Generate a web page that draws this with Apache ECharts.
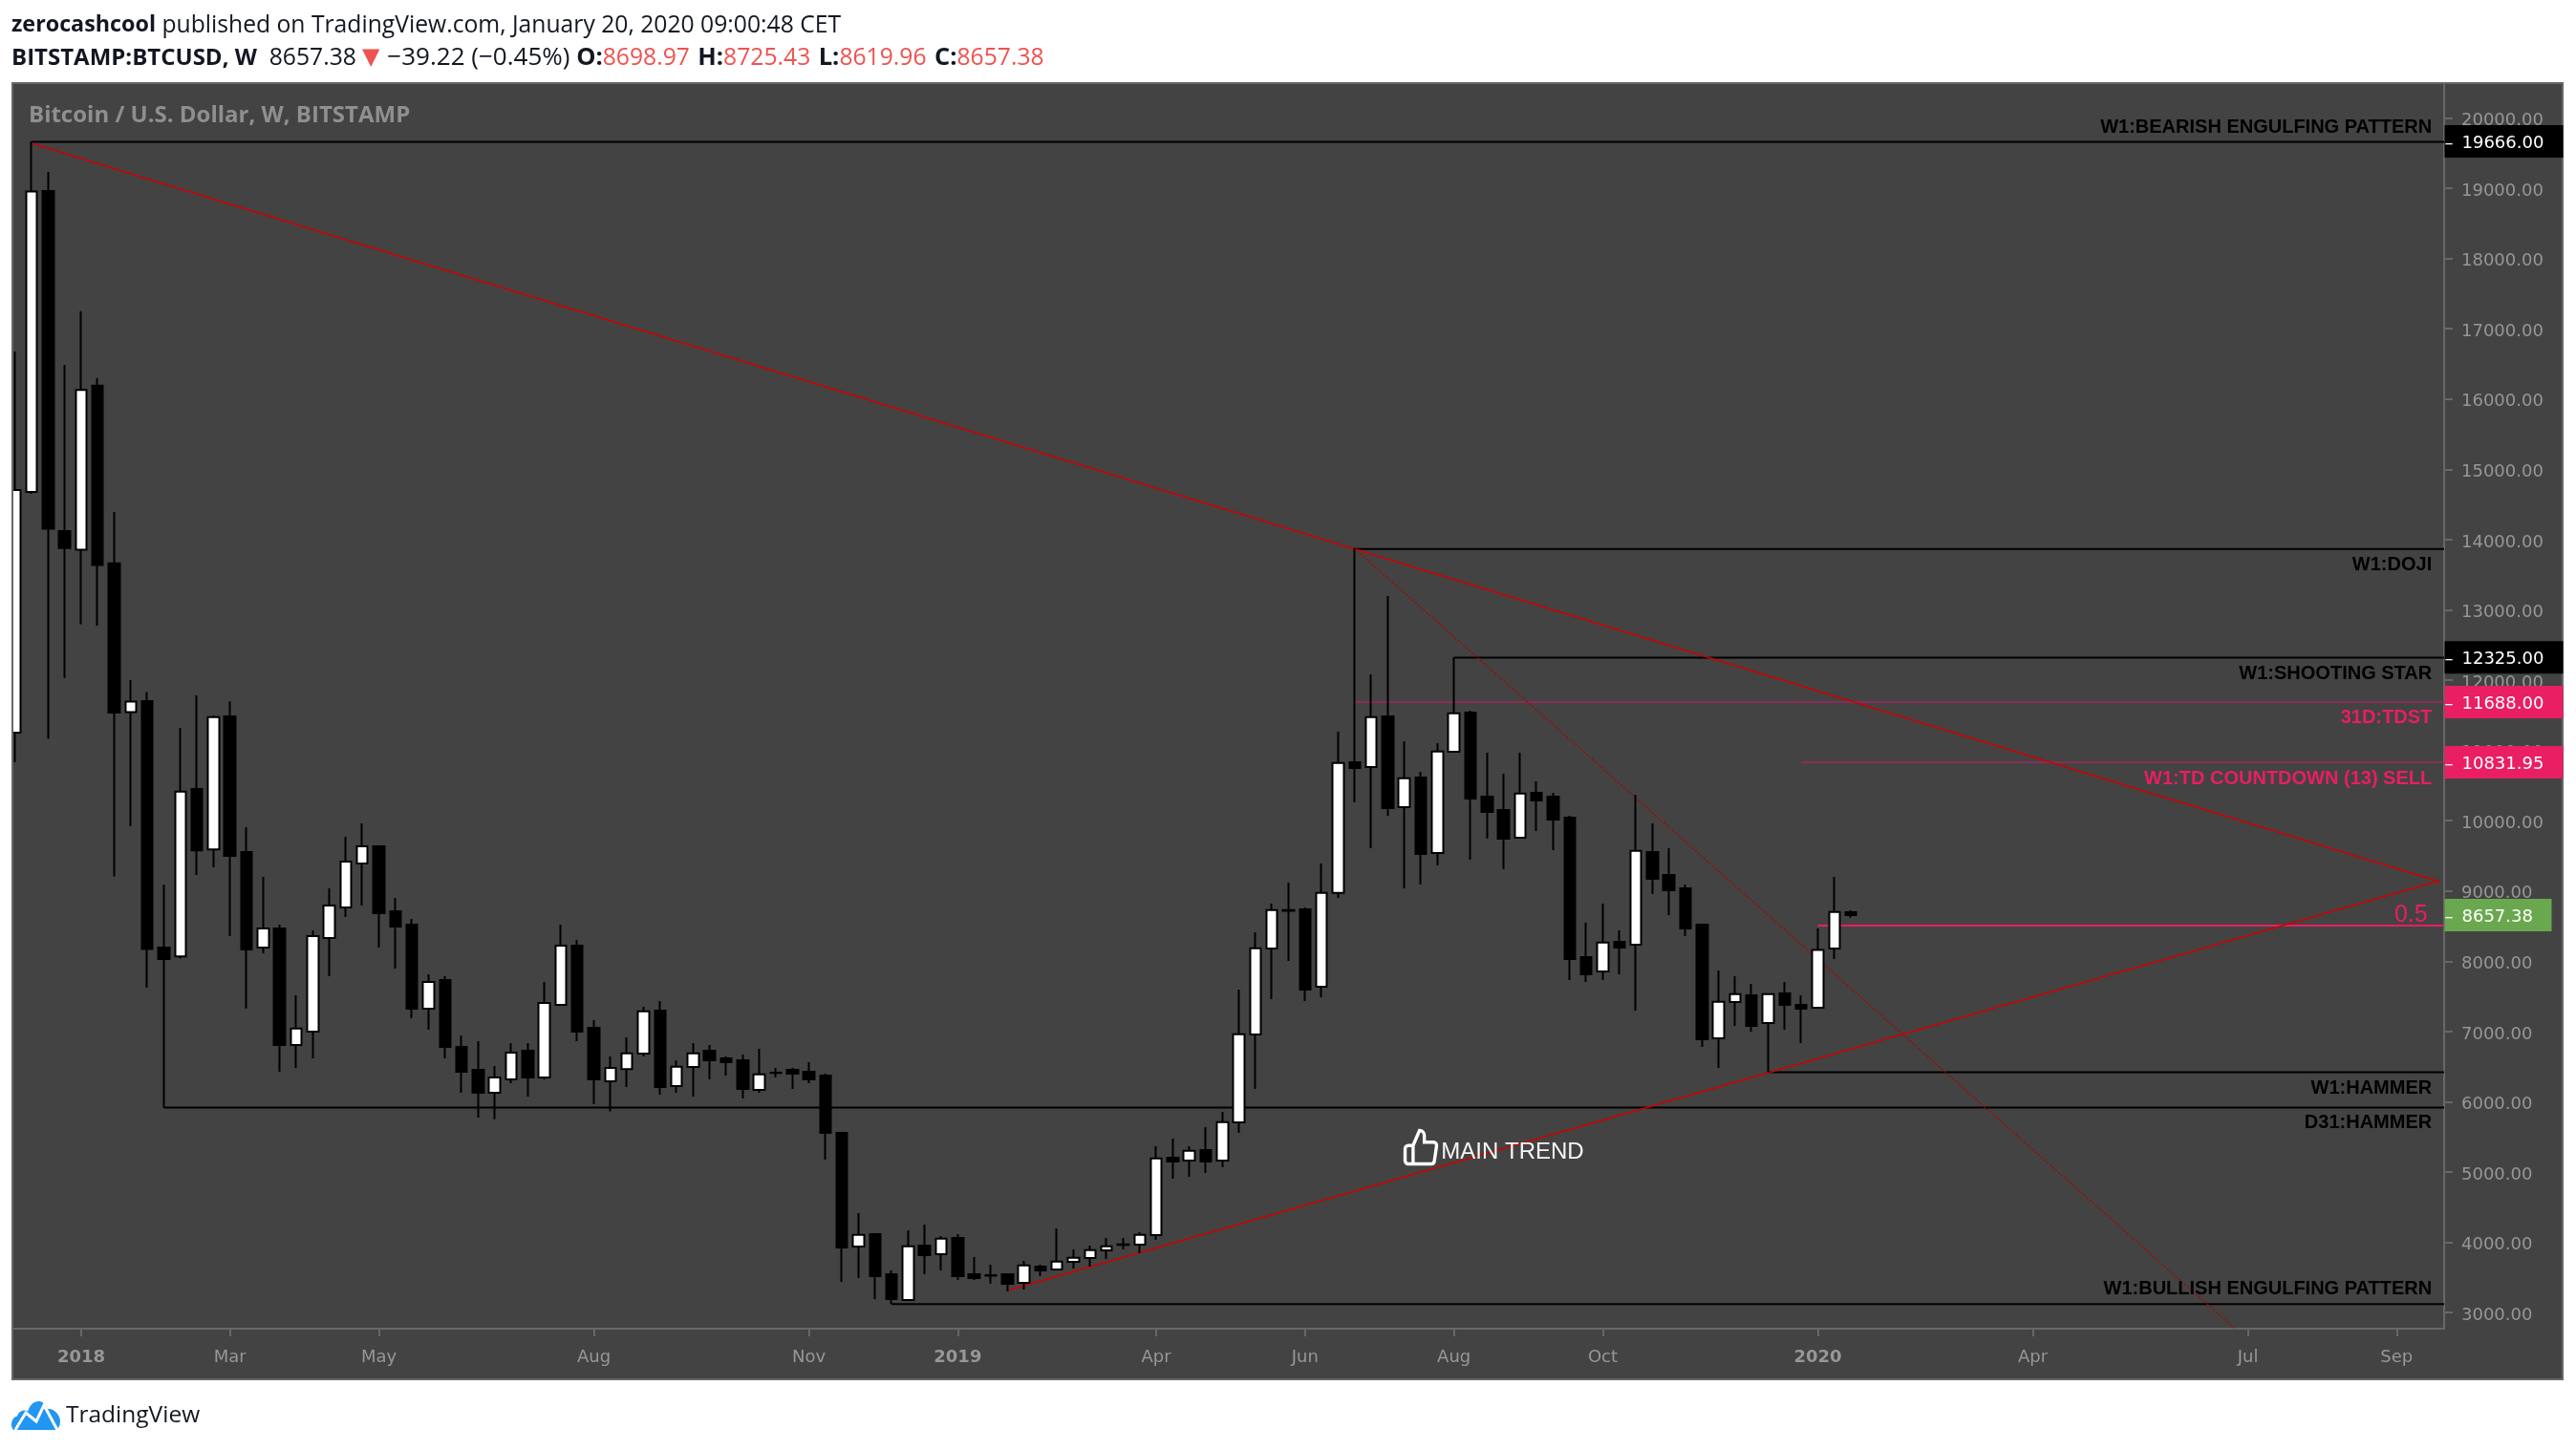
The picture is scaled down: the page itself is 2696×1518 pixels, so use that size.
<!DOCTYPE html>
<html><head><meta charset="utf-8">
<style>html,body{margin:0;padding:0;background:#fff}#c{width:2696px;height:1518px}</style>
<script src="https://cdn.jsdelivr.net/npm/echarts@6/dist/echarts.min.js"></script>
</head><body><div id="c"></div>
<script>
// Weekly OHLC, first candle = week of 4 Dec 2017, last = week of 20 Jan 2020
const opens=[11252,14679,18960,14121,13856,16190,13662,11547,11703,8195,8068,10451,9591,11484,9555,8195,8468,6809,6999,8331,8766,9391,9636,8712,8521,7325,7733,6782,6456,6130,6320,6727,6347,7380,8222,7053,6292,6467,6687,7298,6224,6497,6727,6618,6591,6170,6415,6456,6429,6374,5559,3941,4118,3547,3181,3956,3832,4063,3547,3533,3547,3425,3656,3615,3724,3777,3887,3972,3968,4104,5205,5164,5313,5164,5708,6958,8182,8729,8739,7637,8974,10832,10764,11484,10193,10615,9541,10981,11539,10343,10153,9758,10397,10343,10044,8060,7856,8277,8236,9555,9229,9038,8521,6904,7420,7516,7120,7543,7380,7340,8182,8698.97];
const closes=[14706,18952,14154,13880,16128,13640,11539,11696,8176,8032,10415,9580,11476,9500,8168,8468,6809,7044,8358,8794,9418,9636,8685,8494,7325,7707,6782,6429,6130,6347,6700,6347,7407,8222,6999,6320,6482,6690,7289,6211,6500,6690,6591,6564,6184,6392,6410,6401,6320,5559,3928,4108,3520,3194,3945,3818,4054,3520,3493,3525,3411,3673,3602,3727,3782,3891,3945,3965,4108,5195,5151,5304,5151,5712,6963,8186,8729,8720,7597,8974,10823,10751,11475,10180,10606,9527,10986,11530,10316,10126,9745,10388,10288,10016,8032,7815,8268,8195,9572,9174,9011,8467,6890,7425,7533,7081,7533,7380,7325,8160,8702,8657.38];
const lows=[10831,14650,11165,12031,12796,12776,9207,9921,7624,5920,8040,9229,9337,8358,7330,8114,6429,6482,6618,7788,8630,8794,8195,7898,7189,7026,6618,6130,5776,5752,6265,6076,6320,7370,6864,5970,5863,6211,6645,6102,6130,6076,6320,6374,6048,6130,6347,6184,6265,5178,3439,3493,3194,3122,3175,3547,3602,3466,3466,3411,3302,3330,3520,3610,3629,3656,3764,3900,3846,4036,4906,4933,4988,5070,5559,6184,7462,8005,7434,7489,8902,10262,9609,10071,9038,9092,9364,10970,9445,9745,9310,9750,9854,9582,7733,7707,7733,7815,7298,8956,8657,8358,6782,6482,7081,6999,6420,7026,6836,7330,8032,8619.96];
const highs=[16677,19666,19232,16486,17250,16299,14394,12000,11830,9092,11322,11783,11498,11700,9908,9201,8521,7516,8440,9038,9772,9962,9640,8902,8603,7815,7788,6945,6864,6510,6836,6836,7707,8521,8304,7162,6645,6918,7353,7434,6591,6836,6809,6645,6672,6754,6482,6482,6564,6401,5560,4417,4120,3602,4172,4254,4091,4118,3791,3683,3547,3737,3683,4199,3900,3956,4063,4063,4145,5368,5477,5368,5640,5858,7597,8413,8820,9120,8766,9391,11267,13880,12083,13197,11131,10696,11104,12325,11566,10968,10669,10968,10560,10397,10071,8549,8820,8440,10370,9962,9609,9092,8530,7869,7787,7679,7540,7707,7516,8467,9201,8725.43];

// Axis tick labels: week index -> text
const timeTickWeeks=[4,13,22,35,48,57,69,78,87,96,109,122,135,144];
const timeTickLabels=['2018','Mar','May','Aug','Nov','2019','Apr','Jun','Aug','Oct','2020','Apr','Jul','Sep'];
const priceTicks=[3000,4000,5000,6000,7000,8000,9000,10000,11000,12000,13000,14000,15000,16000,17000,18000,19000,20000];

// Drawn levels: [from week, price]
const blackLevels=[[1,19660],[81,13865],[87,12320],[106,6420],[9,5920],[53,3122]];
const tdstLevel=[81,11688];
const countdownLevel=[108,10831.95];
const fibLevel=[109,8508];
// Trend lines: [week, price] end points
const fallingTrend=[[1,19640],[146.6,9133]];
const risingTrend=[[60,3316],[146.6,9147]];
const steepTrend=[[81,13870],[135,2610]];

// Text annotations
const annotationTexts=['W1:BEARISH ENGULFING PATTERN','W1:DOJI','W1:SHOOTING STAR','31D:TDST','W1:TD COUNTDOWN (13) SELL','W1:HAMMER','D31:HAMMER','W1:BULLISH ENGULFING PATTERN'];
const annotationPrices=[19871,13636,12091,11467,10592,6184,5699,3334];
const annotationPink=[3,4];

// Price tags on the axis
const tagPrices=[19666,12325,11688,10831.95,8657.38];
const tagColors=['#000000','#000000','#e91e63','#e91e63','#6aa84f'];

const X_MIN=-0.098, X_MAX=146.87, Y_MIN=2772.2, Y_MAX=20482.5;
const AXIS_FONT='"DejaVu Sans"', UI_FONT='"Open Sans"', ARIAL='"Liberation Sans"';
const AXIS_GREY='#979797', FRAME='#676767', PANEL='#434343', INK='#131722', RED='#ef5350', PINK='#e91e63';
const TREND='#cf0000';
const CLEAR={color:'rgba(0,0,0,0)',opacity:1};

const candles=opens.map((o,i)=>[i,o,closes[i],lows[i],highs[i]]);
const segment=(name,pts,color,width,type,z)=>({name,type:'line',data:pts,symbol:'none',silent:true,clip:true,z:z||1,
  lineStyle:{color,width,type:type||'solid'},itemStyle:{color}});
const level=(name,l,color,width)=>segment(name,[[l[0],l[1]],[X_MAX,l[1]]],color,width);

const series=[];
blackLevels.forEach((l,i)=>series.push(level('level'+i,l,'#000000',2)));
series.push(level('tdst',tdstLevel,'#8c2b58',2));
series.push(level('countdown',countdownLevel,'#a0285a',1.5));
series.push(level('fib',fibLevel,PINK,2));
series.push(segment('falling',fallingTrend,TREND,1.4));
series.push(segment('rising',risingTrend,TREND,1.4));
series.push(segment('steep',steepTrend,'#b00000',1.3,[2,2]));
series.push({name:'BTCUSD',type:'candlestick',data:candles,z:3,barWidth:12,clip:true,silent:true,
  itemStyle:{color:'#ffffff',color0:'#000000',borderColor:'#000000',borderColor0:'#000000',borderWidth:2}});
// annotations
series.push({name:'annotations',type:'scatter',symbolSize:1,z:5,silent:true,clip:false,itemStyle:CLEAR,
  data:annotationTexts.map((t,i)=>({value:[146.16,annotationPrices[i]],
    label:{show:true,position:'left',distance:0,formatter:t,fontFamily:ARIAL,fontWeight:'bold',fontSize:20,
      color:annotationPink.includes(i)?PINK:'#000000'}}))
   .concat([{value:[145.9,8650],label:{show:true,position:'left',distance:0,formatter:'0.5',fontFamily:ARIAL,fontSize:25,color:PINK}},
            {value:[86.2,5280],label:{show:true,position:'right',distance:0,formatter:'MAIN TREND',fontFamily:ARIAL,fontSize:24,color:'#f5f5f5'}}])});
series.push({name:'thumb',type:'scatter',z:5,silent:true,clip:false,data:[[85,5355]],symbolSize:[33,35],
  symbol:'path://M14 9V5a3 3 0 0 0-3-3l-4 9v11h11.28a2 2 0 0 0 2-1.7l1.38-9a2 2 0 0 0-2-2.3zM7 22H4a2 2 0 0 1-2-2v-7a2 2 0 0 1 2-2h3',
  itemStyle:{color:'rgba(0,0,0,0)',opacity:1,borderColor:'#ffffff',borderWidth:3.5}});
// price tags
series.push({name:'tags',type:'scatter',symbolSize:1,z:6,silent:true,clip:false,itemStyle:CLEAR,
  data:tagPrices.map((p,i)=>({value:[X_MAX,p],label:{show:true,position:'right',distance:0,
    formatter:'{d|–}{v|'+p.toFixed(2)+'}',
    backgroundColor:tagColors[i],width:i===4?112:124,height:34,align:'left',verticalAlign:'middle',
    rich:{d:{width:18,fontFamily:AXIS_FONT,fontSize:18,color:'#fff',height:34,lineHeight:34},
          v:{fontFamily:AXIS_FONT,fontSize:18,color:'#fff',height:34,lineHeight:38}}}}))});
// logo mark placed in the footer, outside the plot
series.push({name:'logo',type:'scatter',z:6,silent:true,clip:false,data:[[1.26,1535]],symbolSize:[51,30],
  symbol:'path://M2 30 C-2 26 0 19 6 18 C7 14 13 12 17 14 C20 4 33 2 37 12 C44 11 52 18 50 25 C49 28 48 29 46 30 Z',
  itemStyle:{color:'#2196f3',opacity:1}});

const option={
  animation:false,backgroundColor:'#ffffff',
  grid:{left:14,right:138,top:88,bottom:127,containLabel:false},
  xAxis:{type:'value',min:X_MIN,max:X_MAX,splitLine:{show:false},
    axisLine:{show:true,onZero:false,lineStyle:{color:FRAME,width:2}},
    axisTick:{show:true,length:8,customValues:timeTickWeeks,lineStyle:{color:FRAME,width:2}},
    axisLabel:{show:true,customValues:timeTickWeeks,margin:21,color:AXIS_GREY,fontFamily:AXIS_FONT,fontSize:18,
      hideOverlap:false,
      formatter:v=>{const s=timeTickLabels[timeTickWeeks.indexOf(Math.round(v))];return /^\d/.test(s)?'{y|'+s+'}':s;},
      rich:{y:{fontWeight:'bold',fontFamily:AXIS_FONT,fontSize:18,color:AXIS_GREY}}}},
  yAxis:{type:'value',position:'right',min:Y_MIN,max:Y_MAX,scale:true,splitLine:{show:false},
    axisLine:{show:true,onZero:false,lineStyle:{color:FRAME,width:2}},
    axisTick:{show:true,length:9,customValues:priceTicks,lineStyle:{color:FRAME,width:2}},
    axisLabel:{show:true,customValues:priceTicks,margin:18,color:AXIS_GREY,fontFamily:AXIS_FONT,fontSize:18,
      hideOverlap:false,formatter:v=>'{p|'+v.toFixed(2)+'}',
      rich:{p:{padding:[6,0,0,0],color:AXIS_GREY,fontFamily:AXIS_FONT,fontSize:18}}}},
  series,
  graphic:[
    {type:'rect',z:-10,silent:true,shape:{x:13,y:87,width:2669,height:1357},style:{fill:PANEL,stroke:FRAME,lineWidth:2}},
    // keeps the partly hidden first candle inside the panel
    {type:'rect',z:20,silent:true,shape:{x:0,y:88,width:12,height:1355},style:{fill:'#ffffff'}},
    {type:'rect',z:20,silent:true,shape:{x:12,y:86,width:2,height:1359},style:{fill:FRAME}},
    {type:'text',z:10,silent:true,left:12,top:14,style:{
      text:'{b|zerocashcool}{n| published on TradingView.com, January 20, 2020 09:00:48 CET}',
      rich:{b:{fontFamily:UI_FONT,fontWeight:'bold',fontSize:23.3,fill:INK},n:{fontFamily:UI_FONT,fontSize:24.7,fill:INK}}}},
    {type:'text',z:10,silent:true,left:12,top:48,style:{
      text:'{b|BITSTAMP:BTCUSD, W}{n|  8657.38}{t|▼}{m|−39.22 (−0.45%) }{c|O:}{r|8698.97 }{c|H:}{r|8725.43 }{c|L:}{r|8619.96 }{c|C:}{e|8657.38}',
      rich:{b:{fontFamily:UI_FONT,fontWeight:'bold',fontSize:24,fill:INK},c:{fontFamily:UI_FONT,fontWeight:'bold',fontSize:25.5,fill:INK},
            n:{fontFamily:UI_FONT,fontSize:24.7,fill:INK},m:{fontFamily:UI_FONT,fontSize:26,fill:INK},
            r:{fontFamily:UI_FONT,fontSize:24.7,fill:RED,padding:[0,2,0,0]},e:{fontFamily:UI_FONT,fontSize:24.7,fill:RED},
            t:{fontFamily:AXIS_FONT,fontSize:24,fill:RED,padding:[0,8,0,6]}}}},
    {type:'text',z:10,silent:true,left:30,top:109,style:{text:'Bitcoin / U.S. Dollar, W, BITSTAMP',fontFamily:UI_FONT,fontWeight:'bold',fontSize:24,fill:'#8f8f8f'}},
    // TradingView logo zigzag and wordmark
    {type:'polyline',z:11,silent:true,shape:{points:[[16,1497],[27,1479],[38,1488],[46,1471],[60,1497]]},style:{stroke:'#ffffff',lineWidth:3,fill:null}},
    {type:'text',z:10,silent:true,left:69,top:1470,style:{text:'TradingView',fontFamily:UI_FONT,fontSize:24.5,fill:INK}}
  ]
};
const chart=echarts.init(document.getElementById('c'),null,{renderer:'canvas',width:2696,height:1518});
chart.setOption(option);
</script></body></html>
